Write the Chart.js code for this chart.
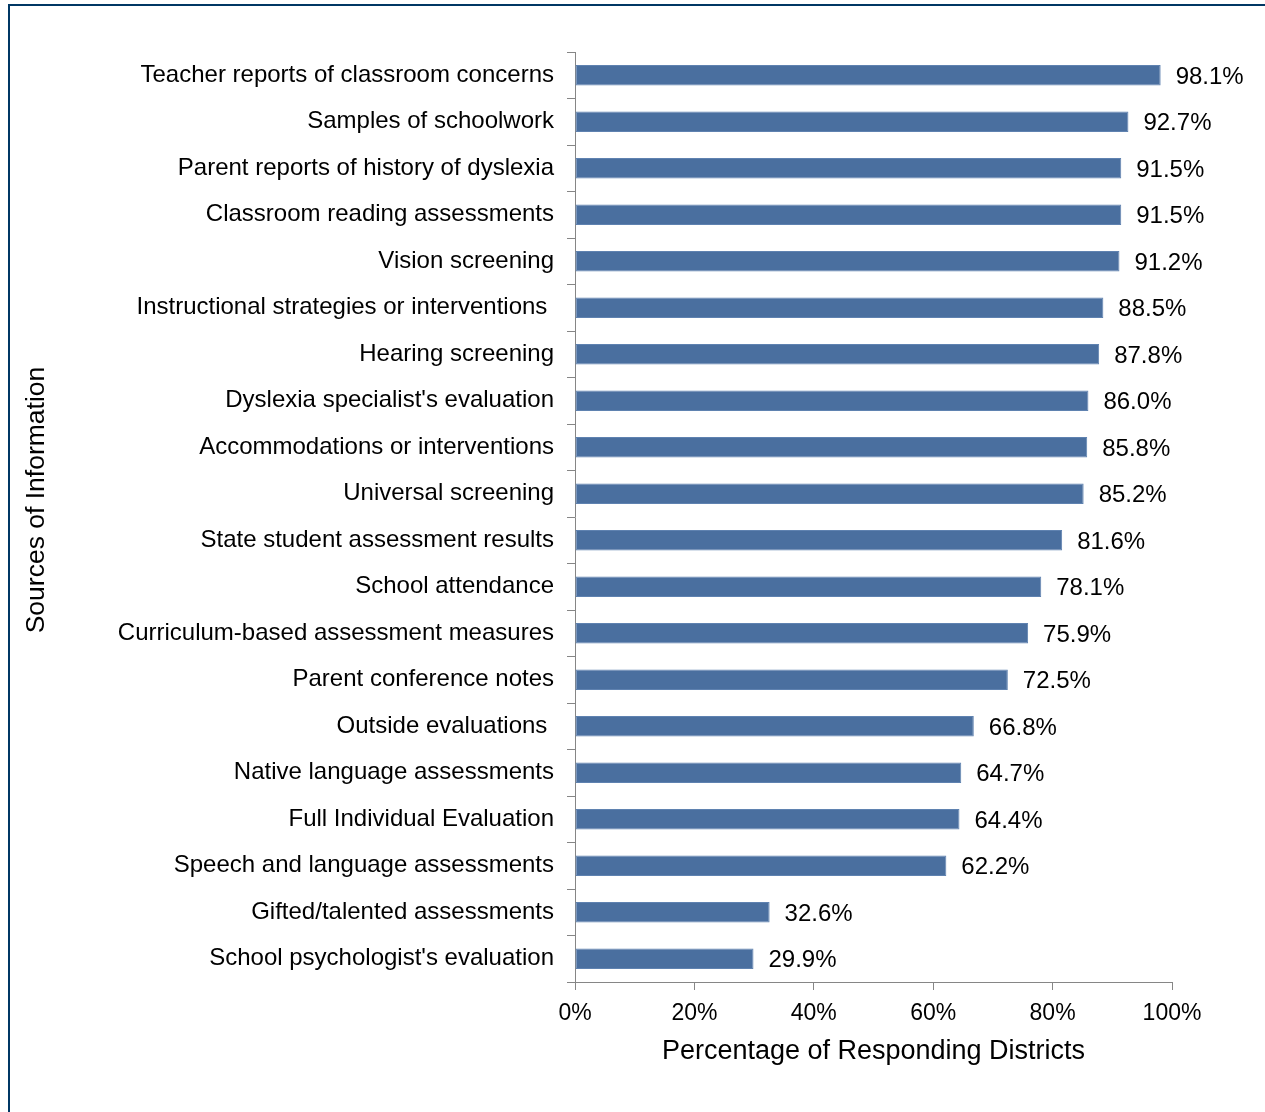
<!DOCTYPE html>
<html>
<head>
<meta charset="utf-8">
<script src="https://cdn.jsdelivr.net/npm/chart.js@4"></script>
<style>
  html, body { margin: 0; padding: 0; background: #fff; }
  #wrap { position: relative; width: 1265px; height: 1112px; }
  #frame {
    position: absolute; left: 8px; top: 4px; width: 1300px; height: 1200px;
    border-left: 2px solid #003764; border-top: 2px solid #003764;
    box-sizing: border-box; pointer-events: none;
  }
  canvas { position: absolute; left: 0; top: 0; }
</style>
</head>
<body>
<div id="wrap">
  <canvas id="chart" width="1265" height="1112"></canvas>
  <div id="frame"></div>
</div>
<script>
const sources = [
    'Teacher reports of classroom concerns',
    'Samples of schoolwork',
    'Parent reports of history of dyslexia',
    'Classroom reading assessments',
    'Vision screening',
    'Instructional strategies or interventions ',
    'Hearing screening',
    "Dyslexia specialist's evaluation",
    'Accommodations or interventions',
    'Universal screening',
    'State student assessment results',
    'School attendance',
    'Curriculum-based assessment measures',
    'Parent conference notes',
    'Outside evaluations ',
    'Native language assessments',
    'Full Individual Evaluation',
    'Speech and language assessments',
    'Gifted/talented assessments',
    "School psychologist's evaluation"
];
const percentages = [98.1, 92.7, 91.5, 91.5, 91.2, 88.5, 87.8, 86.0, 85.8, 85.2,
                     81.6, 78.1, 75.9, 72.5, 66.8, 64.7, 64.4, 62.2, 32.6, 29.9];
const xTicks = [0, 20, 40, 60, 80, 100];
const yTitle = 'Sources of Information';

const fontFamily = '"Liberation Sans", Arial, sans-serif';
const axisGrey = '#868686';

// value labels to the right of each bar
const valueLabels = {
    id: 'valueLabels',
    afterDatasetsDraw(chart) {
        const ctx = chart.ctx;
        const meta = chart.getDatasetMeta(0);
        ctx.save();
        ctx.font = '24px ' + fontFamily;
        ctx.fillStyle = '#000';
        ctx.textAlign = 'left';
        ctx.textBaseline = 'middle';
        meta.data.forEach((bar, i) => {
            ctx.fillText(percentages[i].toFixed(1) + '%', bar.x + 15, bar.y + 2);
        });
        ctx.restore();
    }
};

// y axis title sits a bit above the middle of the axis in the original
const sideTitle = {
    id: 'sideTitle',
    afterDraw(chart) {
        const ctx = chart.ctx;
        const area = chart.chartArea;
        ctx.save();
        ctx.translate(37, (area.top + area.bottom) / 2 - 17);
        ctx.rotate(-Math.PI / 2);
        ctx.font = '26.5px ' + fontFamily;
        ctx.fillStyle = '#000';
        ctx.textAlign = 'center';
        ctx.textBaseline = 'middle';
        ctx.fillText(yTitle, 0, 0);
        ctx.restore();
    }
};

const ctx = document.getElementById('chart').getContext('2d');
new Chart(ctx, {
    type: 'bar',
    data: {
        labels: sources,
        datasets: [{
            data: percentages,
            backgroundColor: '#4a6f9f',
            borderColor: '#5f82b0',
            borderWidth: 1,
            borderSkipped: false,
            categoryPercentage: 1,
            barPercentage: 0.44
        }]
    },
    options: {
        indexAxis: 'y',
        responsive: false,
        animation: false,
        layout: { padding: { top: 52, right: 93, left: 0, bottom: 0 } },
        plugins: {
            legend: { display: false },
            tooltip: { enabled: false }
        },
        scales: {
            x: {
                min: 0,
                max: 100,
                afterBuildTicks: (scale) => {
                    scale.ticks = xTicks.map(v => ({ value: v }));
                },
                afterFit: (scale) => { scale.height = 130; },
                grid: {
                    drawOnChartArea: false,
                    drawTicks: true,
                    tickLength: 8,
                    color: axisGrey
                },
                border: { color: axisGrey, width: 1 },
                ticks: {
                    padding: 10,
                    color: '#000',
                    font: { family: fontFamily, size: 23 },
                    callback: (v) => v + '%'
                },
                title: {
                    display: true,
                    text: 'Percentage of Responding Districts',
                    color: '#000',
                    font: { family: fontFamily, size: 27 },
                    padding: { top: 0, bottom: 44 }
                }
            },
            y: {
                afterFit: (scale) => { scale.width = 575; },
                grid: {
                    offset: true,
                    drawOnChartArea: false,
                    drawTicks: true,
                    tickLength: 8,
                    color: axisGrey
                },
                border: { color: axisGrey, width: 1 },
                ticks: {
                    padding: 13,
                    color: '#000',
                    autoSkip: false,
                    font: { family: fontFamily, size: 24 }
                }
            }
        }
    },
    plugins: [valueLabels, sideTitle]
});
</script>
</body>
</html>
